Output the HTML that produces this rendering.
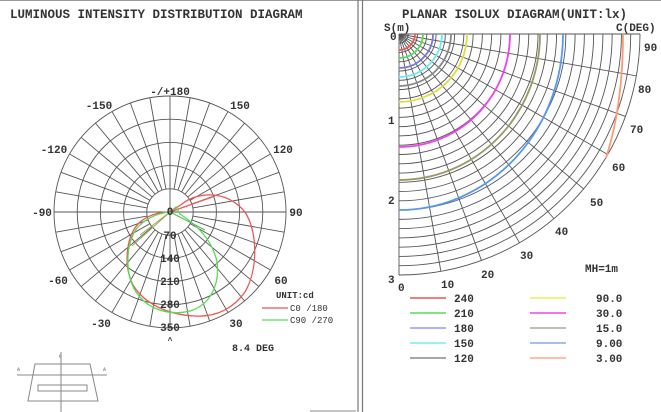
<!DOCTYPE html>
<html><head><meta charset="utf-8"><style>
html,body{margin:0;padding:0;background:#fff;}
svg{display:block;}
text{font-family:"Liberation Mono",monospace;font-weight:bold;fill:#333;font-size:11px;}
</style></head><body>
<svg id="s" width="661" height="412" viewBox="0 0 661 412" xmlns="http://www.w3.org/2000/svg">
<rect x="0" y="0" width="661" height="412" fill="#fff"/>
<line x1="0" y1="0.5" x2="661" y2="0.5" stroke="#999"/>
<line x1="358" y1="0" x2="358" y2="412" stroke="#777" stroke-width="1.2"/>
<line x1="362.5" y1="0" x2="362.5" y2="412" stroke="#777" stroke-width="1.2"/>
<line x1="310" y1="411" x2="356" y2="411" stroke="#888"/>
<text x="10" y="18" style="font-size:12.5px">LUMINOUS INTENSITY DISTRIBUTION DIAGRAM</text>
<text x="402" y="18" style="font-size:12.5px">PLANAR ISOLUX DIAGRAM(UNIT:lx)</text>
<text x="384" y="31">S(m)</text>
<text x="616" y="31">C(DEG)</text>
<g id="lg"></g>
<g id="rg"></g>
<!-- left curves -->
<path d="M170,212 L215,196" stroke="#e55" stroke-width="1.2" fill="none"/>
<path d="M170,212 L182,204 C195,193 225,188 245,212 C258,232 258,270 245,292 C232,310 215,317 195,316 C170,315 145,305 133,285 C123,265 126,235 140,222 C150,214 160,212 170,212" stroke="#e55" stroke-width="1.3" fill="none"/>
<path d="M170,212 L176,207 L180,214 C195,224 212,238 217,262 C220,285 210,305 190,311 C170,316 148,310 136,292 C125,275 125,245 137,228 C147,217 160,213 170,212" stroke="#5d5" stroke-width="1.3" fill="none"/>
<path d="M170,212 L132,246 M170,212 L140,235" stroke="#9a5" stroke-width="1" fill="none"/>
<path d="M170,212 L205,230" stroke="#5b5" stroke-width="1" fill="none"/>
<!-- left labels -->
<g text-anchor="middle">
<text x="170" y="95">-/+180</text>
<text x="240" y="109">150</text><text x="99" y="109">-150</text>
<text x="283" y="153">120</text><text x="54" y="153">-120</text>
<text x="296" y="216">90</text><text x="42" y="216">-90</text>
<text x="281" y="284">60</text><text x="58" y="284">-60</text>
<text x="236" y="327">30</text><text x="101" y="327">-30</text>
<text x="170" y="215">0</text><text x="170" y="239">70</text><text x="170" y="262">140</text><text x="170" y="285">210</text><text x="170" y="308">280</text><text x="170" y="331">350</text>
<text x="170" y="343" style="font-size:8px">^</text>
</g>
<text x="276" y="298" style="font-size:9px">UNIT:cd</text>
<line x1="262" y1="308" x2="288" y2="308" stroke="#e55" stroke-width="1.3"/>
<line x1="262" y1="320" x2="288" y2="320" stroke="#5d5" stroke-width="1.3"/>
<text x="290" y="311" style="font-size:9px;font-weight:normal">C0  /180</text>
<text x="290" y="323" style="font-size:9px;font-weight:normal">C90 /270</text>
<text x="232" y="351" style="font-size:10px">8.4 DEG</text>
<!-- luminaire -->
<g stroke="#888" fill="none" stroke-width="1">
<path d="M35,364 L90,364 L98,401 L28,401 Z"/>
<line x1="17" y1="375" x2="107" y2="375"/>
<rect x="38" y="385" width="49" height="6"/>
<line x1="61" y1="352" x2="61" y2="412"/>
</g>
<text x="59" y="358" style="font-size:5px;fill:#888">C</text>
<text x="17" y="371" style="font-size:5px;fill:#888">A</text>
<text x="103" y="371" style="font-size:5px;fill:#888">A</text>
<!-- right labels -->
<text x="390" y="40">0</text><text x="388" y="124">1</text><text x="388" y="204">2</text><text x="388" y="283">3</text>
<text x="398" y="291">0</text><text x="441" y="288">10</text><text x="481" y="278">20</text><text x="520" y="259">30</text><text x="555" y="235">40</text><text x="590" y="206">50</text><text x="612" y="171">60</text><text x="630" y="133">70</text><text x="638" y="93">80</text><text x="644" y="51">90</text>
<text x="585" y="272">MH=1m</text>
<g id="leg"></g>
</svg>
<script>
var NS="http://www.w3.org/2000/svg";
function el(p,t,a){var e=document.createElementNS(NS,t);for(var k in a)e.setAttribute(k,a[k]);document.getElementById(p).appendChild(e);return e;}
// left polar grid
var cx=170,cy=212;
for(var i=1;i<=5;i++)el("lg","circle",{cx:cx,cy:cy,r:23.2*i,fill:"none",stroke:"#555","stroke-width":0.9});
for(var a=0;a<360;a+=10){var t=a*Math.PI/180;var r0=(a%90==0)?0:23.2,r1=116;
el("lg","line",{x1:cx+r0*Math.sin(t),y1:cy+r0*Math.cos(t),x2:cx+r1*Math.sin(t),y2:cy+r1*Math.cos(t),stroke:"#555","stroke-width":0.9});}
// right quadrant
var ox=399,oy=34,R=241;
for(var i=1;i<=26;i++){var r=R*i/26;el("rg","path",{d:"M"+ox+","+(oy+r)+" A"+r+","+r+" 0 0 0 "+(ox+r)+","+oy,fill:"none",stroke:"#555","stroke-width":0.9});}
for(var a=0;a<=90;a+=10){var t=a*Math.PI/180;el("rg","line",{x1:ox,y1:oy,x2:ox+R*Math.sin(t),y2:oy+R*Math.cos(t),stroke:"#555","stroke-width":0.9});}
// isolux
var iso=[[16,16,"#e55"],[24,24,"#5d5"],[34,34,"#77d"],[43,43,"#6ee"],[52,52,"#888"],[68,68,"#dd4"],[111,113,"#e4e"],[141,146,"#996"],[164,176,"#59e"]];
iso.forEach(function(c){el("rg","path",{d:"M"+ox+","+(oy+c[1])+" A"+c[0]+","+c[1]+" 0 0 0 "+(ox+c[0])+","+oy,fill:"none",stroke:c[2],"stroke-width":1.8});});
el("rg","path",{d:"M606,158 C615,130 623,90 623,34",fill:"none",stroke:"#f97","stroke-width":1.8});
// legend
var L=[["240","#e55","90.0","#ee5"],["210","#5d5","30.0","#e4e"],["180","#99e","15.0","#aa9"],["150","#7ee","9.00","#8ae"],["120","#888","3.00","#fa8"]];
L.forEach(function(r,i){var y=298+15*i;
el("leg","line",{x1:410,y1:y,x2:446,y2:y,stroke:r[1],"stroke-width":1.5});
el("leg","line",{x1:530,y1:y,x2:566,y2:y,stroke:r[3],"stroke-width":1.5});
var t1=el("leg","text",{x:454,y:y+4});t1.textContent=r[0];
var t2=el("leg","text",{x:596,y:y+4});t2.textContent=r[2];});
</script>
</body></html>
